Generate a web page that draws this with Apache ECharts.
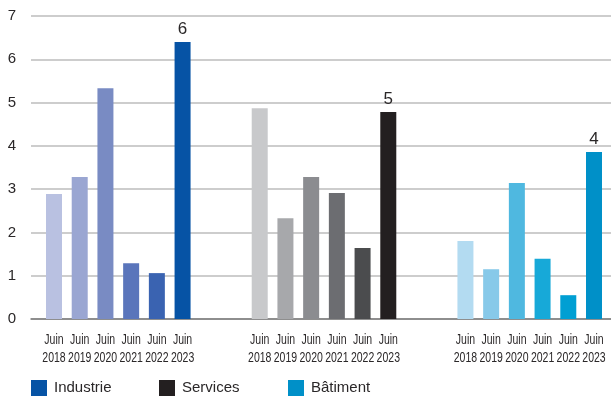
<!DOCTYPE html>
<html>
<head>
<meta charset="utf-8">
<script src="https://cdn.jsdelivr.net/npm/echarts@6/dist/echarts.min.js"></script>
<style>
html,body{margin:0;padding:0;background:#fff;overflow:hidden;}
#c{width:611px;height:401px;}
</style>
</head>
<body>
<div id="c"></div>
<script>
var periods = ['Juin\n2018','Juin\n2019','Juin\n2020','Juin\n2021','Juin\n2022','Juin\n2023'];
var industrie = [2.89, 3.28, 5.33, 1.29, 1.06, 6.40];
var services  = [4.87, 2.33, 3.28, 2.91, 1.64, 4.78];
var batiment  = [1.80, 1.15, 3.14, 1.39, 0.55, 3.86];
var yTicks = [0, 1, 2, 3, 4, 5, 6, 7];
var seriesNames = ['Industrie', 'Services', 'Bâtiment'];

var palettes = [
  ['#b9c1e1','#9aa6d2','#798bc3','#5a75bb','#3a63b1','#0653a5'],
  ['#c8c9cb','#a7a8ab','#8b8c90','#6c6d71','#4b4c4e','#231f20'],
  ['#b3dbf1','#87c9e9','#4fb8e0','#17a9d8','#009fd3','#0090c8']
];
var groupStart = [0, 8, 16];
var allValues = [industrie, services, batiment];

var labelData = [];
groupStart.forEach(function (s) {
  periods.forEach(function (p, i) { labelData.push([s + i, 0, p]); });
});

var fontReg = "'Liberation Sans',Arial,sans-serif";
var textColor = '#2a2728';

var series = allValues.map(function (vals, g) {
  return {
    name: seriesNames[g],
    type: 'bar',
    barWidth: 16,
    barGap: '-100%',
    itemStyle: { color: palettes[g][5] },
    data: vals.map(function (v, i) {
      var item = {
        value: [groupStart[g] + i, v],
        itemStyle: { color: palettes[g][i] }
      };
      if (i === vals.length - 1) {
        item.label = {
          show: true,
          position: 'top',
          distance: 4,
          color: textColor,
          fontFamily: fontReg,
          fontSize: 17,
          formatter: function (p) { return String(Math.round(p.value[1])); }
        };
      }
      return item;
    })
  };
});

// condensed x-axis labels, positioned through the axis scale
series.push({
  type: 'custom',
  name: 'xlabels',
  clip: false,
  silent: true,
  z: 5,
  data: labelData,
  encode: { x: 0, y: 1 },
  renderItem: function (params, api) {
    var pt = api.coord([api.value(0), api.value(1)]);
    return {
      type: 'text',
      x: pt[0],
      y: pt[1] + 12,
      scaleX: 0.7,
      style: {
        text: labelData[params.dataIndex][2],
        fill: textColor,
        font: "15px 'Liberation Sans', Arial, sans-serif",
        align: 'center',
        verticalAlign: 'top',
        lineHeight: 18
      }
    };
  }
});

function legendAt(name, left) {
  return {
    data: [name],
    left: left,
    top: 380,
    itemWidth: 16,
    itemHeight: 16,
    icon: 'rect',
    padding: 0,
    selectedMode: false,
    textStyle: { fontFamily: fontReg, fontSize: 15, color: textColor, padding: [0, 0, 0, 2] }
  };
}

var chart = echarts.init(document.getElementById('c'), null, { renderer: 'canvas' });
chart.setOption({
  animation: false,
  backgroundColor: '#fff',
  grid: { left: 31, right: 0, top: 16, bottom: 82, containLabel: false },
  legend: [legendAt('Industrie', 31), legendAt('Services', 159), legendAt('Bâtiment', 288)],
  xAxis: {
    type: 'value',
    min: -0.8945,
    max: 21.661,
    splitLine: { show: false },
    axisTick: { show: false },
    axisLabel: { show: false },
    axisLine: { show: true, onZero: false, lineStyle: { color: '#7a7a7a', width: 1.5 } }
  },
  yAxis: {
    type: 'value',
    min: yTicks[0],
    max: yTicks[yTicks.length - 1],
    interval: 1,
    axisLine: { show: false },
    axisTick: { show: false },
    splitLine: { lineStyle: { color: '#bdbdbd', width: 1.5 } },
    axisLabel: { fontFamily: fontReg, fontSize: 15, color: textColor, margin: 15 }
  },
  series: series
});
</script>
</body>
</html>
